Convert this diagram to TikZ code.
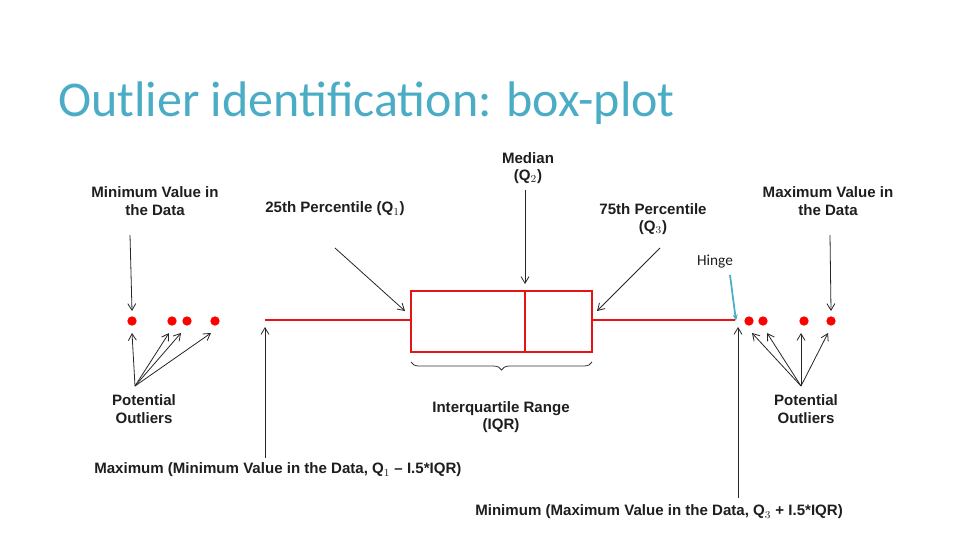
\documentclass[tikz,border=0pt]{standalone}
\usepackage{fontspec}
\setmainfont{Liberation Sans}
\newfontfamily\titlefont{Carlito}
\usetikzlibrary{arrows.meta,decorations.pathreplacing,calc}
\definecolor{teal1}{RGB}{75,172,198}
\definecolor{bred}{RGB}{230,20,20}
\definecolor{txt}{RGB}{30,30,30}
\begin{document}
\begin{tikzpicture}[x=0.75pt,y=-0.75pt,
  lbl/.style={font=\bfseries\fontsize{11.3}{13}\selectfont,text=txt,align=center,inner sep=0},
  arr/.style={draw=black!85,line width=0.6pt,-{Straight Barb[length=5pt,width=6pt]}},
  dot/.style={circle,fill=red,inner sep=0,minimum size=7pt},
  red line/.style={draw=bred,line width=2.2pt}]
\useasboundingbox (0,0) rectangle (960,540);
\node[anchor=west,text=teal1,font=\titlefont\fontsize{37.5}{40}\selectfont,inner sep=0] (title) at (58,103) {Outlier identification: box-plot};
% box
\draw[red line] (411,291) rectangle (592,352);
\draw[red line] (525,291) -- (525,352);
\coordinate (lw) at (265,320); \coordinate (rw) at (735,320);
\draw[red line] (lw) -- (411,320);
\draw[red line] (592,320) -- (rw);
% dots
\foreach \n/\x in {l1/132,l2/172,l3/187,l4/215,r1/749,r2/763,r3/804,r4/831}
  \node[dot] (\n) at (\x,321) {};
% labels
\node[lbl] (minv) at (155,201) {Minimum Value in\\the Data};
\node[lbl] (maxv) at (828,201) {Maximum Value in\\the Data};
\node[lbl] (med) at (528,168) {Median\\(Q$_2$)};
\node[lbl] (p25) at (335,209) {25th Percentile (Q$_1$)};
\node[lbl] (p75) at (653,219) {75th Percentile\\(Q$_3$)};
\node[lbl] (pol) at (144,409) {Potential\\Outliers};
\node[lbl] (por) at (806,409) {Potential\\Outliers};
\node[lbl] (iqr) at (501,417) {Interquartile Range\\(IQR)};
\node[lbl,anchor=west] (lmin) at (94,470) {Maximum (Minimum Value in the Data, Q$_1$ -- I.5*IQR)};
\node[lbl,anchor=west] (rmax) at (475,512) {Minimum (Maximum Value in the Data, Q$_3$ + I.5*IQR)};
\node[font=\titlefont\fontsize{11.5}{13}\selectfont,text=txt,inner sep=0] (hinge) at (715,262) {Hinge};
% arrows
\draw[arr] (130,235) -- ($(l1)+(0,-10)$);
\draw[arr] (830,235) -- ($(r4)+(0,-10)$);
\draw[arr] (525,190) -- (525,284);
\draw[arr] (335,248) -- (405,311);
\draw[arr] (660,248) -- (597,311);
\coordinate (ol) at (135,386);
\foreach \p in {(132,333),(169,333),(181,333),(211,333)} \draw[arr] (ol) -- \p;
\coordinate (or) at (801,386);
\foreach \p in {(752,333),(767,333),(801,333),(828,333)} \draw[arr] (or) -- \p;
\coordinate (la) at (265,458); \coordinate (ra) at (738,498);
\draw[arr] (la) -- (265,327);
\draw[arr] (ra) -- (738,327);
\draw[teal1,line width=1.3pt,-{Stealth[length=5pt]}] (730,275) -- (736,321);
\draw[black!80,line width=0.6pt,decorate,decoration={brace,mirror,amplitude=6pt}] (411,362) -- (592,362);
\end{tikzpicture}
\end{document}
